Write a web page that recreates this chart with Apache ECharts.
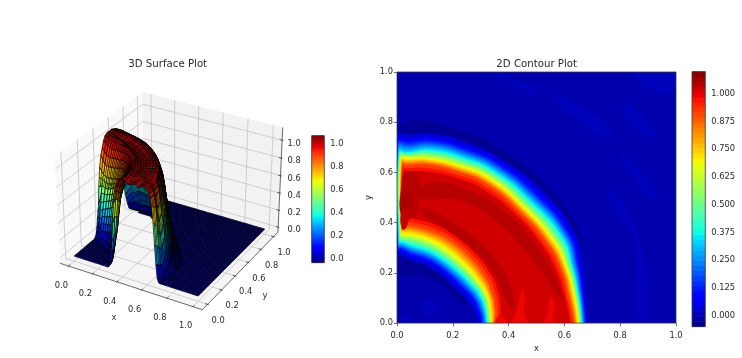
<!DOCTYPE html>
<html>
<head>
<meta charset="utf-8">
<style>html,body{margin:0;padding:0;background:#fff}#chart{width:742px;height:358px}</style>
<script src="https://cdn.jsdelivr.net/npm/echarts@6/dist/echarts.min.js"></script>
</head>
<body>
<div id="chart"></div>
<script>
// ---- Field values for the expanding ring ----
// Contour levels of the ring, lowest first.
const contourLevels = [.02,.06,.1,.15,.2,.25,.3,.35,.4,.45,.5,.55,.6,.65,.7,.75,.8,.85,.9,.95,1.0];
// Rays (degrees from the x axis) along which each level's radius is tabulated.
const rayAngles = [0,10,20,30,45,60,70,80,87];
// Radius of each level on the outside of the ring: one row per ray, one column per level.
const outerRadii = [
 [.683,.678,.675,.673,.670,.668,.665,.663,.661,.659,.657,.656,.654,.652,.649,.645,.642,.639,.635,.627,.620],
 [.686,.679,.675,.672,.669,.666,.663,.660,.658,.655,.653,.651,.648,.646,.642,.638,.633,.629,.625,.617,.610],
 [.706,.696,.690,.686,.681,.677,.672,.668,.665,.662,.658,.655,.652,.649,.644,.640,.635,.631,.626,.617,.607],
 [.732,.719,.712,.706,.701,.695,.690,.684,.679,.673,.668,.663,.657,.652,.647,.642,.636,.631,.626,.615,.605],
 [.740,.725,.716,.709,.702,.696,.689,.682,.677,.671,.666,.661,.655,.650,.645,.640,.635,.630,.625,.615,.605],
 [.752,.738,.730,.724,.717,.711,.704,.698,.693,.688,.683,.678,.673,.668,.662,.657,.651,.646,.640,.628,.615],
 [.760,.744,.735,.728,.721,.714,.707,.700,.695,.689,.684,.679,.673,.668,.662,.657,.651,.646,.640,.628,.615],
 [.765,.748,.738,.730,.723,.715,.708,.700,.695,.689,.684,.679,.673,.668,.662,.657,.651,.646,.640,.626,.612],
 [.750,.733,.722,.714,.705,.697,.688,.680,.677,.673,.670,.667,.663,.660,.654,.648,.642,.636,.630,.617,.605]
];
// Radius of each level on the inside of the ring.
const innerRadii = [
 [.292,.300,.305,.309,.312,.316,.319,.323,.325,.327,.330,.332,.334,.336,.339,.342,.346,.349,.352,.361,.370],
 [.283,.292,.298,.302,.307,.311,.316,.320,.323,.326,.328,.331,.334,.337,.341,.345,.350,.354,.358,.368,.378],
 [.268,.281,.288,.294,.299,.305,.310,.316,.320,.323,.327,.331,.334,.338,.343,.348,.352,.357,.362,.374,.385],
 [.254,.268,.275,.281,.287,.293,.299,.305,.310,.314,.319,.324,.328,.333,.339,.346,.352,.359,.365,.378,.390],
 [.247,.261,.268,.274,.280,.286,.292,.298,.303,.309,.314,.319,.325,.330,.338,.346,.354,.362,.370,.383,.395],
 [.251,.265,.272,.278,.284,.290,.296,.302,.308,.314,.320,.326,.332,.338,.346,.355,.363,.372,.380,.393,.405],
 [.254,.268,.276,.282,.288,.295,.301,.307,.313,.320,.326,.332,.339,.345,.353,.361,.369,.377,.385,.400,.415],
 [.257,.271,.279,.285,.292,.298,.305,.311,.318,.324,.331,.337,.344,.350,.358,.366,.374,.382,.390,.405,.420],
 [.276,.288,.295,.300,.306,.311,.317,.322,.327,.331,.336,.341,.345,.350,.358,.366,.374,.382,.390,.405,.420]
];
// Distance from x = 0 at which each level is reached along the thin layer at the wall.
const wallOffsets = [.001,.002,.003,.004,.005,.006,.007,.008,.009,.010,.011,.012,.013,.014,.015,.016,.017,.018,.019,.021,.024];

// Values of the flat regions and crests between the contour levels.
const backgroundValue = -0.005;
const undershootValue = -0.03;
const rippleValue = 0.008;
const plateauValue = 1.02;
const crestValue = 1.045;
const crestPeakValue = 1.06;
const crestLowValue = 1.035;
const dipValue = 0.99;

// Undershoot arcs just outside the ring, as [angle, radius].
const undershootOuter = [[88,.715],[88,.800],[75,.800],[60,.785],[45,.768],[35,.757],[28,.745],[25,.72],[45,.71],[70,.72]];
const undershootInner = [[86,.195],[72,.200],[50,.215],[30,.23],[20,.24],[18,.265],[30,.285],[50,.285],[72,.285],[86,.26]];
// Faint ripples in the still region, as [x, y].
const ripples = [
 [[.346,.996],[.502,.93],[.496,.911],[.406,.957]],
 [[.568,.917],[.765,.773],[.741,.74],[.562,.891]],
 [[.825,.878],[.933,.747],[.915,.74],[.82,.819]],
 [[.861,.996],[.933,.917],[.99,.93],[.99,.996]],
 [[.807,.675],[.933,.511],[.909,.498],[.807,.642]],
 [[.765,.537],[.861,.354],[.897,.039],[.861,.026],[.849,.327],[.765,.472]],
 [[.119,.092],[.143,.052],[.095,.026],[.089,.066]],
 [[.03,.03],[.05,.015],[.025,.002],[.012,.015]]
];
// Crests on the plateau, as [angle, radius].
const crestOuterArc = [[10,.602],[20,.592],[35,.587],[50,.587],[65,.586],[78,.570],[83,.500],[78,.505],[65,.540],[50,.539],[35,.539],[20,.560],[10,.590]];
const crestInnerArc = [[10,.408],[30,.402],[50,.402],[65,.415],[78,.445],[78,.468],[65,.450],[50,.438],[30,.434],[10,.428]];
// Crest along the wall and its peak, as [x, y].
const crestWall = [[.018,.42],[.06,.43],[.078,.50],[.075,.585],[.03,.60],[.018,.57]];
const crestPeak = [[.02,.445],[.04,.45],[.04,.515],[.02,.52]];
const crestPeakLow = [[.018,.375],[.035,.385],[.04,.45],[.018,.45]];
// Shallow dips near the bottom of the plateau, as [x, y].
const dips = [
 [[.447,.135],[.46,.09],[.455,.04],[.475,-.02],[.415,-.02],[.43,.05],[.44,.10]],
 [[.552,.105],[.566,.06],[.557,.03],[.575,-.02],[.525,-.02],[.54,.04]],
 [[.37,.03],[.40,-.02],[.35,-.02]]
];

// Surface height in percent, one row per angle (every 5 degrees), one column per radius.
const surfaceAngles = [0,5,10,15,20,25,30,35,40,45,50,55,60,65,70,75,80,85,90];
const surfaceRadii = [.24,.26,.28,.29,.30,.31,.32,.33,.34,.35,.36,.38,.40,.42,.44,.46,.48,.50,.52,.54,.56,.58,.60,.61,.62,.63,.64,.65,.66,.67,.68,.69,.70,.72,.74,.76];
const surfacePercent = [
 [0,0,0,1,6,17,31,52,74,87,93,101,102,103,102,99,100,101,102,99,101,102,101,99,96,92,83,66,42,20,5,1,0,0,0,0],
 [0,0,0,2,7,20,35,58,77,86,92,100,103,103,102,100,100,101,102,101,102,103,100,98,95,90,78,58,35,16,5,1,0,0,0,0],
 [0,0,1,3,11,22,36,53,73,83,89,97,101,104,103,102,102,102,102,102,102,101,96,91,84,72,58,43,28,12,6,3,0,0,0,0],
 [0,0,1,7,17,28,38,53,69,78,87,96,101,103,103,102,102,102,102,102,102,101,98,93,87,76,62,52,37,22,13,7,3,0,0,0],
 [0,1,5,12,21,30,40,54,67,76,84,94,100,103,103,102,102,102,102,102,102,102,100,95,91,82,72,65,50,37,27,17,8,2,0,0],
 [0,2,8,17,27,35,48,59,71,75,80,92,100,103,103,102,102,102,102,102,102,102,100,96,92,83,76,66,54,43,33,23,12,3,0,0],
 [0,4,15,22,31,40,51,61,68,74,79,90,98,103,104,103,102,102,102,104,104,102,100,97,92,88,79,68,57,49,39,30,22,7,1,0],
 [0,7,18,26,35,45,55,65,70,75,80,90,97,101,104,103,102,102,102,104,104,102,100,97,92,87,78,66,57,47,38,29,20,8,1,0],
 [0,8,19,27,37,47,56,65,70,74,79,89,96,101,104,103,102,102,102,104,104,102,100,97,92,87,77,65,56,46,37,28,20,8,2,0],
 [0,8,19,27,37,47,56,65,69,73,78,88,95,101,104,103,102,102,102,104,104,102,100,97,93,87,77,65,56,47,37,28,20,9,2,0],
 [0,7,18,26,35,45,54,62,67,71,76,86,94,100,104,103,102,102,102,104,104,103,101,98,95,90,82,71,62,52,41,33,24,11,3,0],
 [0,7,17,25,34,44,53,60,66,70,75,85,93,100,104,103,102,102,102,104,104,103,101,99,96,92,85,76,66,56,47,37,28,14,4,0],
 [0,6,16,24,33,43,52,58,64,68,73,84,92,99,104,103,102,102,102,104,104,103,102,100,97,93,90,82,72,62,53,43,34,18,6,1],
 [0,5,14,22,31,40,48,55,61,66,71,82,90,98,104,103,102,102,102,104,104,103,102,100,97,94,90,82,72,62,53,43,33,18,6,1],
 [0,5,13,21,29,38,46,53,59,64,69,80,89,97,103,104,102,102,102,104,104,103,102,100,97,94,90,82,72,62,53,42,32,17,6,1],
 [0,4,12,20,28,36,44,51,57,62,68,79,88,96,103,105,103,102,103,105,105,104,102,100,97,94,90,82,72,62,53,42,31,16,5,1],
 [0,3,11,19,26,34,42,50,56,62,67,78,87,95,102,105,104,103,104,105,105,104,102,100,97,94,90,82,72,62,53,42,31,14,4,1],
 [0,1,7,13,22,31,40,50,58,64,69,79,88,97,104,106,106,105,106,106,105,105,103,101,98,95,88,76,66,55,44,33,26,14,4,1],
 [0,0,2,5,10,19,27,35,55,65,76,88,95,102,106,107,108,107,108,107,106,105,103,100,94,90,84,72,60,42,33,23,18,9,2,0]
];
// Height of the still floor around the ring.
const floorPercent = 0;

// Axis ticks and colour ranges.
const planeTicks = [0,.2,.4,.6,.8,1];
const contourBarTicks = [0,.125,.25,.375,.5,.625,.75,.875,1];
const surfaceRange = [-.03,1.075];
const contourRange = [-.05,1.10];
const contourBarBands = 50;
const surfaceBarBands = 128;

// ---- Jet colour map ----
const jetRed = [[0,0],[.35,0],[.66,1],[.89,1],[1,.5]];
const jetGreen = [[0,0],[.125,0],[.375,1],[.64,1],[.91,0],[1,0]];
const jetBlue = [[0,.5],[.11,1],[.34,1],[.65,0],[1,0]];
function ramp(stops, t) {
  for (let i = 1; i < stops.length; i++) {
    if (t <= stops[i][0]) {
      const a = stops[i - 1], b = stops[i];
      return a[1] + (b[1] - a[1]) * (t - a[0]) / (b[0] - a[0]);
    }
  }
  return stops[stops.length - 1][1];
}
function jet(value, range) {
  const t = Math.min(1, Math.max(0, (value - range[0]) / (range[1] - range[0])));
  const c = [jetRed, jetGreen, jetBlue].map(s => Math.round(ramp(s, t) * 255));
  return 'rgb(' + c.join(',') + ')';
}

// ---- Filled contour shapes, painted lowest value first ----
const polar = (deg, r) => [r * Math.cos(deg * Math.PI / 180), r * Math.sin(deg * Math.PI / 180)];
const fromPolar = list => list.map(p => polar(p[0], p[1]));
const contourShapes = [];
contourShapes.push({ value: backgroundValue, points: [[-.1,-.1],[1.1,-.1],[1.1,1.1],[-.1,1.1]], sharp: true });
ripples.forEach(points => contourShapes.push({ value: rippleValue, points }));
contourShapes.push({ value: undershootValue, points: fromPolar(undershootOuter) });
contourShapes.push({ value: undershootValue, points: fromPolar(undershootInner) });
contourLevels.forEach((level, l) => {
  const next = l + 1 < contourLevels.length ? (level + contourLevels[l + 1]) / 2 : plateauValue;
  const points = [[outerRadii[0][l], -.03]];
  rayAngles.forEach((deg, ray) => points.push(polar(deg, outerRadii[ray][l])));
  const last = rayAngles.length - 1;
  points.push([wallOffsets[l], outerRadii[last][l]]);
  points.push([wallOffsets[l], innerRadii[last][l]]);
  for (let ray = last; ray >= 0; ray--) points.push(polar(rayAngles[ray], innerRadii[ray][l]));
  points.push([innerRadii[0][l], -.03]);
  contourShapes.push({ value: next, points });
});
contourShapes.push({ value: crestValue, points: fromPolar(crestOuterArc) });
contourShapes.push({ value: crestValue, points: fromPolar(crestInnerArc) });
contourShapes.push({ value: crestValue, points: crestWall });
contourShapes.push({ value: crestPeakValue, points: crestPeak });
contourShapes.push({ value: crestLowValue, points: crestPeakLow });
dips.forEach(points => contourShapes.push({ value: dipValue, points }));

// ---- Perspective view of the surface box ----
const paneX = [-.0729, 1.0729], paneY = [-.0729, 1.0729], paneZ = [-.06, 1.14];
const boxSize = [1.19, 1.19, .893], viewDistance = 10;
const camU = [.866, .5, 0], camV = [-.25, .433, .866], camW = [.433, -.75, .5];
const screenScale = 1370, screenX = 171, screenY = 195.6;
function toCamera(x, y, z) {
  const d = [
    ((x - paneX[0]) / (paneX[1] - paneX[0]) - .5) * boxSize[0],
    ((y - paneY[0]) / (paneY[1] - paneY[0]) - .5) * boxSize[1],
    ((z - paneZ[0]) / (paneZ[1] - paneZ[0]) - .5) * boxSize[2]
  ];
  const dot = a => a[0] * d[0] + a[1] * d[1] + a[2] * d[2];
  return [dot(camU), dot(camV), dot(camW)];
}
function project(x, y, z) {
  const c = toCamera(x, y, z), f = viewDistance - c[2];
  return [screenX + screenScale * c[0] / f, screenY - screenScale * c[1] / f];
}

// ---- Surface facets, sorted far to near ----
const facets = [];
const meshSpacing = .02, outerWallRadius = .60, outerWallAngle = 15;
function addFacet(corners, hatch) {
  const depth = corners.reduce((s, p) => s + toCamera(p[0], p[1], p[2])[2], 0) / 4;
  const height = corners.reduce((s, p) => s + p[2], 0) / 4;
  facets.push({ depth, hatch, fill: jet(height, surfaceRange), points: corners.map(p => project(p[0], p[1], p[2])) });
}
const ringVertex = (a, r) => {
  const p = polar(surfaceAngles[a], surfaceRadii[r]);
  return [p[0], p[1], surfacePercent[a][r] / 100];
};
const rowStep = (surfaceAngles[1] - surfaceAngles[0]) * Math.PI / 180;
for (let a = 0; a + 1 < surfaceAngles.length; a++) {
  for (let r = 0; r + 1 < surfaceRadii.length; r++) {
    const arc = rowStep * (surfaceRadii[r] + surfaceRadii[r + 1]) / 2;
    let hatch = Math.max(1, Math.round(arc / meshSpacing));
    // The grazing outer wall packs its mesh lines closely on screen.
    if (surfaceRadii[r] >= outerWallRadius && surfaceAngles[a] >= outerWallAngle) hatch *= 2;
    addFacet([ringVertex(a, r), ringVertex(a, r + 1), ringVertex(a + 1, r + 1), ringVertex(a + 1, r)], hatch);
  }
}
const floorCells = 50, floorHeight = floorPercent / 100;
for (let i = 0; i < floorCells; i++) {
  for (let j = 0; j < floorCells; j++) {
    const x0 = i / floorCells, x1 = (i + 1) / floorCells, y0 = j / floorCells, y1 = (j + 1) / floorCells;
    const rc = Math.hypot((x0 + x1) / 2, (y0 + y1) / 2);
    if (rc < surfaceRadii[0] + .005 || rc > surfaceRadii[surfaceRadii.length - 1] - .005) {
      addFacet([[x0, y0, floorHeight], [x1, y0, floorHeight], [x1, y1, floorHeight], [x0, y1, floorHeight]], 1);
    }
  }
}
facets.sort((a, b) => a.depth - b.depth);
const meshStroke = { stroke: '#000', lineWidth: .7 };
function facetChildren(f) {
  const kids = [{ type: 'polygon', shape: { points: f.points }, style: Object.assign({ fill: f.fill }, meshStroke) }];
  const [a, b, c, d] = f.points;
  for (let k = 1; k < f.hatch; k++) {
    const t = k / f.hatch;
    kids.push({ type: 'line', shape: {
      x1: a[0] + (d[0] - a[0]) * t, y1: a[1] + (d[1] - a[1]) * t,
      x2: b[0] + (c[0] - b[0]) * t, y2: b[1] + (c[1] - b[1]) * t
    }, style: meshStroke });
  }
  return kids;
}

// ---- Panes, grid, ticks and labels of the surface box ----
const inkColor = '#2a2a2a', gridColor = '#c4c4c4', fontFamily = '"DejaVu Sans"';
const tickFont = 8.3, titleFont = 10.2;
function frameChildren() {
  const kids = [];
  const pane = (corners, fill) => kids.push({ type: 'polygon', shape: { points: corners.map(p => project(p[0], p[1], p[2])) }, style: { fill } });
  const line = (a, b, stroke, lineWidth) => {
    const p = project(a[0], a[1], a[2]), q = project(b[0], b[1], b[2]);
    kids.push({ type: 'line', shape: { x1: p[0], y1: p[1], x2: q[0], y2: q[1] }, style: { stroke, lineWidth } });
  };
  const label = (x, y, text) => kids.push({ type: 'text', style: { text, x, y, textAlign: 'center', textVerticalAlign: 'middle', align: 'center', verticalAlign: 'middle', fill: inkColor, fontSize: tickFont, fontFamily } });
  const [xa, xb] = paneX, [ya, yb] = paneY, [za, zb] = paneZ;
  pane([[xa, ya, za], [xa, yb, za], [xa, yb, zb], [xa, ya, zb]], '#f9f9f9');
  pane([[xa, yb, za], [xb, yb, za], [xb, yb, zb], [xa, yb, zb]], '#f2f2f2');
  pane([[xa, ya, za], [xb, ya, za], [xb, yb, za], [xa, yb, za]], '#f5f5f5');
  const gw = .8, inward = .019, outward = .0095;
  planeTicks.forEach((t) => {
    line([t, ya, za], [t, yb, za], gridColor, gw);
    line([t, yb, za], [t, yb, zb], gridColor, gw);
    line([xb, t, za], [xa, t, za], gridColor, gw);
    line([xa, t, za], [xa, t, zb], gridColor, gw);
    line([xa, ya, t], [xa, yb, t], gridColor, gw);
    line([xa, yb, t], [xb, yb, t], gridColor, gw);
  });
  line([xa, ya, za], [xb, ya, za], inkColor, .7);
  line([xb, ya, za], [xb, yb, za], inkColor, .7);
  line([xb, yb, za], [xb, yb, zb], inkColor, .7);
  const s = planeTicks.length - 1;
  planeTicks.forEach((t, i) => {
    const f = i / s, tx = t.toFixed(1);
    line([t, ya + inward, za], [t, ya - outward, za], inkColor, .7);
    line([xb - inward, t, za], [xb + outward, t, za], inkColor, .7);
    line([xb - inward, yb, t], [xb + outward, yb, t], inkColor, .7);
    let p = project(t, ya, za);
    label(p[0] - 7.2, p[1] + 19.5, tx);
    p = project(xb, t, za);
    label(p[0] + 10.5, p[1] + 16.3, tx);
    p = project(xb, yb, t);
    label(p[0] + 16 - 4 * f, p[1] + 2.5 + .7 * f, tx);
  });
  label(114, 318, 'x');
  label(265, 295.5, 'y');
  return kids;
}

const barX = { min: 0, max: 1, show: false };
const frameRect = (api, x0, y0, x1, y1) => {
  const a = api.coord([x0, y0]), b = api.coord([x1, y1]);
  return { type: 'rect', shape: { x: a[0], y: b[1], width: b[0] - a[0], height: a[1] - b[1] }, style: { fill: 'none', stroke: '#3a3a3a', lineWidth: .8 } };
};
const barAxis = (range, ticks, digits, gridIndex) => ({
  type: 'value', gridIndex, position: 'right', min: range[0], max: range[1], splitLine: { show: false },
  axisLine: { show: false },
  axisTick: { show: true, length: 3, customValues: ticks, lineStyle: { color: inkColor, width: .7 } },
  axisLabel: { show: true, customValues: ticks, margin: 6, padding: [4, 0, 0, 0], color: inkColor, fontSize: tickFont, fontFamily, formatter: v => v.toFixed(digits) }
});
function barSeries(range, bands, axisIndex) {
  const step = (range[1] - range[0]) / bands;
  const items = [];
  for (let b = 0; b < bands; b++) items.push(b);
  return {
    type: 'custom', coordinateSystem: 'cartesian2d', xAxisIndex: axisIndex, yAxisIndex: axisIndex,
    silent: true, animation: false, progressive: 0, data: items,
    renderItem: (params, api) => {
      const b = params.dataIndex, lo = range[0] + b * step;
      const p = api.coord([0, lo]), q = api.coord([1, lo + step]);
      return { type: 'rect', shape: { x: p[0], y: q[1] - .3, width: q[0] - p[0], height: p[1] - q[1] + .6 }, style: { fill: jet(lo + step / 2, range) } };
    }
  };
}
const outlineSeries = (axisIndex, x1, yRange) => ({
  type: 'custom', coordinateSystem: 'cartesian2d', xAxisIndex: axisIndex, yAxisIndex: axisIndex,
  silent: true, animation: false, data: [0], z: 5,
  renderItem: (params, api) => frameRect(api, 0, yRange[0], x1, yRange[1])
});

const chart = echarts.init(document.getElementById('chart'), null, { renderer: 'canvas' });
chart.setOption({
  backgroundColor: '#fff',
  animation: false,
  title: [
    { text: '3D Surface Plot', left: 162.7, top: 54, textAlign: 'center', textStyle: { color: inkColor, fontSize: titleFont, fontWeight: 'normal', fontFamily } },
    { text: '2D Contour Plot', left: 531.7, top: 54, textAlign: 'center', textStyle: { color: inkColor, fontSize: titleFont, fontWeight: 'normal', fontFamily } }
  ],
  grid: [
    { left: 397, top: 72, width: 279, height: 254 },
    { left: 311.7, top: 135.7, width: 12.6, height: 127 },
    { left: 692, top: 71.7, width: 13.3, height: 255 }
  ],
  xAxis: [
    { type: 'value', gridIndex: 0, min: 0, max: 1, interval: .2, name: 'x', nameLocation: 'middle', nameGap: 21,
      nameTextStyle: { color: inkColor, fontSize: tickFont, fontFamily }, splitLine: { show: false },
      axisLine: { show: false }, axisTick: { length: 3, lineStyle: { color: inkColor, width: .7 } },
      axisLabel: { margin: 9, color: inkColor, fontSize: tickFont, fontFamily, formatter: v => v.toFixed(1) } },
    Object.assign({ type: 'value', gridIndex: 1 }, barX),
    Object.assign({ type: 'value', gridIndex: 2 }, barX)
  ],
  yAxis: [
    { type: 'value', gridIndex: 0, min: 0, max: 1, interval: .2, name: 'y', nameLocation: 'middle', nameGap: 24,
      nameTextStyle: { color: inkColor, fontSize: tickFont, fontFamily }, splitLine: { show: false },
      axisLine: { show: false }, axisTick: { length: 3, lineStyle: { color: inkColor, width: .7 } },
      axisLabel: { margin: 4, padding: [4, 0, 0, 0], color: inkColor, fontSize: tickFont, fontFamily, formatter: v => v.toFixed(1) } },
    barAxis(surfaceRange, planeTicks, 1, 1),
    barAxis(contourRange, contourBarTicks, 3, 2)
  ],
  series: [
    { type: 'custom', name: 'box', coordinateSystem: 'none', silent: true, animation: false, data: [0],
      renderItem: () => ({ type: 'group', children: frameChildren() }) },
    { type: 'custom', name: 'surface', coordinateSystem: 'none', silent: true, animation: false, progressive: 0,
      data: facets.map((f, i) => i),
      renderItem: (params) => ({ type: 'group', children: facetChildren(facets[params.dataIndex]) }) },
    { type: 'custom', name: 'contour', coordinateSystem: 'cartesian2d', xAxisIndex: 0, yAxisIndex: 0, clip: true,
      silent: true, animation: false, progressive: 0, data: contourShapes.map((s, i) => i),
      renderItem: (params, api) => {
        const s = contourShapes[params.dataIndex], fill = jet(s.value, contourRange);
        return { type: 'polygon', shape: { points: s.points.map(p => api.coord(p)), smooth: s.sharp ? 0 : .5 }, style: { fill, stroke: fill, lineWidth: .4 } };
      } },
    outlineSeries(0, 1, [0, 1]),
    barSeries(surfaceRange, surfaceBarBands, 1),
    outlineSeries(1, 1, surfaceRange),
    barSeries(contourRange, contourBarBands, 2),
    outlineSeries(2, 1, contourRange)
  ]
});
</script>
</body>
</html>
